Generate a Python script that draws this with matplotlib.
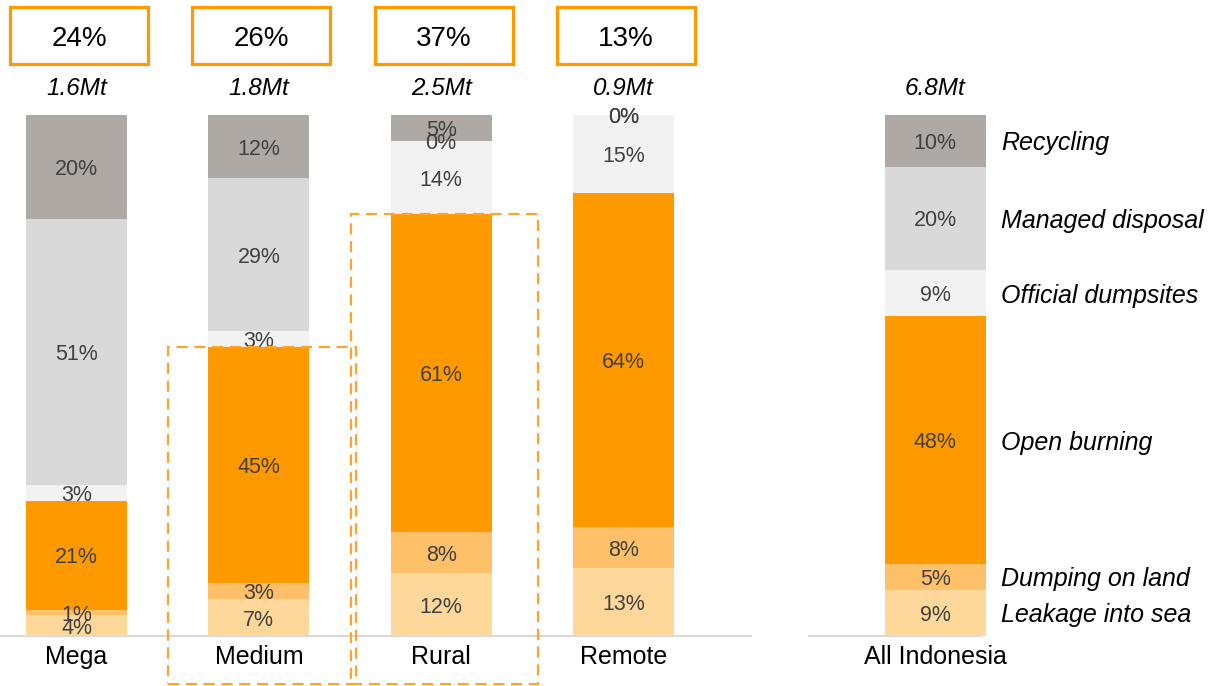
import matplotlib.pyplot as plt
from matplotlib.patches import Rectangle

plt.rcParams['font.family'] = ['Liberation Sans', 'DejaVu Sans']

cats = ['Mega', 'Medium', 'Rural', 'Remote', 'All Indonesia']
pos = [0, 1, 2, 3, 4.71]
tonnes = ['1.6Mt', '1.8Mt', '2.5Mt', '0.9Mt', '6.8Mt']
shares = ['24%', '26%', '37%', '13%']

# bottom to top
series = ['Leakage into sea', 'Dumping on land', 'Open burning',
          'Official dumpsites', 'Managed disposal', 'Recycling']
leakage = [4, 7, 12, 13, 9]
dumping = [1, 3, 8, 8, 5]
burning = [21, 45, 61, 64, 48]
official = [3, 3, 14, 15, 9]
managed = [51, 29, 0, 0, 20]
recycling = [20, 12, 5, 0, 10]
values = [leakage, dumping, burning, official, managed, recycling]
colors = ['#FED89B', '#FEC068', '#FF9900', '#F2F2F2', '#D9D9D9', '#AEA9A4']

highlight = [1, 2]  # dashed boxes around Medium and Rural

fig = plt.figure(figsize=(12.09, 6.86), dpi=100)
ax = fig.add_axes([0, 0, 1, 1])
ax.set_xlim(-0.4197, 6.212)
ax.set_ylim(-9.6, 122.07)
ax.axis('off')

dy = -0.5  # nudge text down a little

totals = [sum(v[i] for v in values) for i in range(len(cats))]
bottoms = [0.0] * len(cats)
burn_top = [0.0] * len(cats)
last = len(cats) - 1
for k, vals in enumerate(values):
    h = [vals[i] / totals[i] * 100 for i in range(len(cats))]
    ax.bar(pos, h, bottom=bottoms, width=0.555, color=colors[k], zorder=2)
    for i in range(len(cats)):
        ax.text(pos[i], bottoms[i] + h[i] / 2 + dy, '%d%%' % vals[i],
                ha='center', va='center', fontsize=15.5, color='#404040',
                zorder=3)
    ax.text(pos[last] + 0.36, bottoms[last] + h[last] / 2 + dy, series[k],
            ha='left', va='center', fontsize=18, style='italic', color='black')
    bottoms = [bottoms[i] + h[i] for i in range(len(cats))]
    if k == 2:
        burn_top = list(bottoms)

# baselines
ax.plot([-0.42, 3.7], [0, 0], color='#D9D9D9', lw=1.5, zorder=1, clip_on=False)
ax.plot([4.02, 4.96], [0, 0], color='#D9D9D9', lw=1.5, zorder=1)

for i in range(len(cats)):
    ax.text(pos[i], -3.45 + dy, cats[i], ha='center', va='center', fontsize=18)
    ax.text(pos[i], 105.6 - 0.6, tonnes[i], ha='center', va='center',
            fontsize=17.5, style='italic')

for i in range(len(shares)):
    ax.add_patch(Rectangle((pos[i] - 0.364, 109.8), 0.757, 10.9, fill=False,
                           edgecolor='#FF9900', lw=2.3, zorder=3))
    ax.text(pos[i] + 0.014, 115.3 - 0.7, shares[i], ha='center', va='center',
            fontsize=20)

for i in highlight:
    ax.add_patch(Rectangle((pos[i] - 0.497, -9.2), 1.03, burn_top[i] + 9.2,
                           fill=False, edgecolor='#FBA52E', lw=1.6,
                           linestyle=(0, (5, 3)), zorder=4, clip_on=False))

fig.savefig('out.png', dpi=100)
